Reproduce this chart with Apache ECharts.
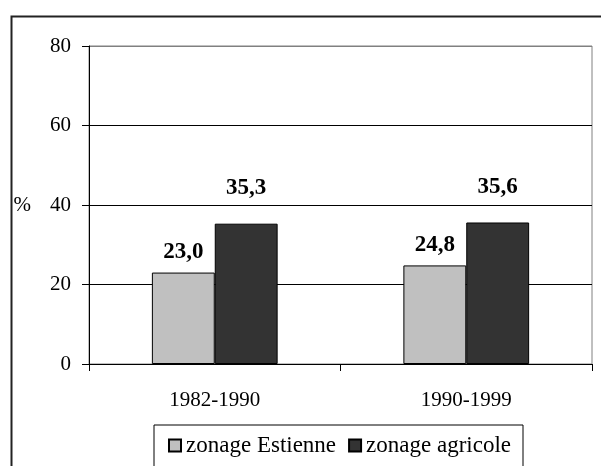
<!DOCTYPE html>
<html>
<head>
<meta charset="utf-8">
<script src="https://cdn.jsdelivr.net/npm/echarts@6/dist/echarts.min.js"></script>
<style>html,body{margin:0;padding:0;background:#fff}#c{width:601px;height:466px}</style>
</head>
<body>
<div id="c"></div>
<script>
var categories = ['1982-1990', '1990-1999'];
var seriesNames = ['zonage Estienne', 'zonage agricole'];
var estienneValues = [23.0, 24.8];
var agricoleValues = [35.3, 35.6];
var yTicks = [0, 20, 40, 60, 80];

var FONT = '"Liberation Serif", "Times New Roman", serif';
var chart = echarts.init(document.getElementById('c'), null, {renderer: 'canvas'});
function fmt(p) { return p.value.toFixed(1).replace('.', ','); }

chart.setOption({
  animation: false,
  backgroundColor: '#fff',
  graphic: [{
    type: 'rect', left: 9, top: 14, z: -10,
    shape: {width: 640, height: 520},
    style: {fill: 'none', stroke: '#222', lineWidth: 2}
  }],
  grid: {left: 89, right: 9, top: 46, bottom: 102, show: true, borderColor: '#808080', borderWidth: 1, backgroundColor: 'transparent'},
  legend: {
    data: seriesNames,
    left: 154, top: 425,
    padding: [9, 12, 16, 14],
    itemGap: 12, itemWidth: 12, itemHeight: 12,
    borderColor: '#000', borderWidth: 1,
    icon: 'rect',
    textStyle: {fontFamily: FONT, fontSize: 23, color: '#000'}
  },
  xAxis: {
    type: 'category', data: categories,
    axisLine: {lineStyle: {color: '#000', width: 1}},
    axisTick: {show: true, length: 7, lineStyle: {color: '#000'}},
    axisLabel: {margin: 26, fontFamily: FONT, fontSize: 21, color: '#000'}
  },
  yAxis: {
    type: 'value', min: yTicks[0], max: yTicks[yTicks.length - 1], interval: 20,
    name: '%', nameLocation: 'middle', nameRotate: 0, nameGap: 58,
    nameTextStyle: {fontFamily: FONT, fontSize: 21, color: '#000'},
    axisLine: {show: true, lineStyle: {color: '#000', width: 1}},
    axisTick: {show: true, length: 7, lineStyle: {color: '#000'}},
    axisLabel: {margin: 18, fontFamily: FONT, fontSize: 21, color: '#000'},
    splitLine: {show: true, lineStyle: {color: ['#000', '#000', '#000', '#000', '#808080'], width: 1}}
  },
  series: [{
    name: seriesNames[0], type: 'bar', data: estienneValues,
    barGap: '0%', barCategoryGap: '50%',
    itemStyle: {color: '#c0c0c0', borderColor: '#000', borderWidth: 1},
    label: {show: true, position: 'top', distance: 9, formatter: fmt,
      fontFamily: FONT, fontSize: 23, fontWeight: 'bold', color: '#000'}
  }, {
    name: seriesNames[1], type: 'bar', data: agricoleValues,
    barGap: '0%', barCategoryGap: '50%',
    itemStyle: {color: '#333333', borderColor: '#000', borderWidth: 1},
    label: {show: true, position: 'top', distance: 24, formatter: fmt,
      fontFamily: FONT, fontSize: 23, fontWeight: 'bold', color: '#000'}
  }]
});
</script>
</body>
</html>
